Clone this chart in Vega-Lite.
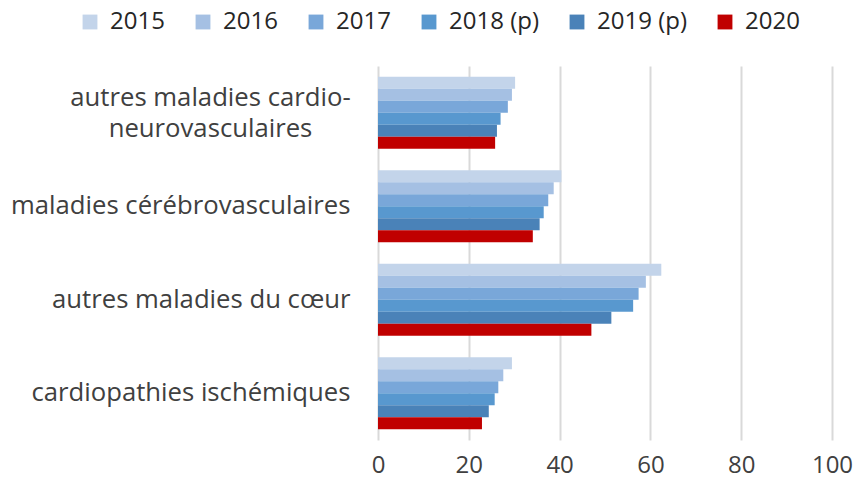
{
  "$schema": "https://vega.github.io/schema/vega-lite/v6.json",
  "autosize": {"type": "none"},
  "width": 454,
  "height": 374,
  "padding": {"left": 378, "top": 66, "right": 25, "bottom": 40},
  "background": "white",
  "config": {
    "view": {"stroke": null},
    "font": "Open Sans",
    "axis": {"labelFont": "Open Sans", "labelColor": "#404040", "titleFont": "Open Sans"},
    "legend": {"labelFont": "Open Sans"}
  },
  "data": {
    "values": [
      {"cause": "autres maladies cardio-|neurovasculaires", "year": "2015", "value": 30.2},
      {"cause": "autres maladies cardio-|neurovasculaires", "year": "2016", "value": 29.5},
      {"cause": "autres maladies cardio-|neurovasculaires", "year": "2017", "value": 28.6},
      {"cause": "autres maladies cardio-|neurovasculaires", "year": "2018 (p)", "value": 27.0},
      {"cause": "autres maladies cardio-|neurovasculaires", "year": "2019 (p)", "value": 26.2},
      {"cause": "autres maladies cardio-|neurovasculaires", "year": "2020", "value": 25.8},
      {"cause": "maladies cérébrovasculaires", "year": "2015", "value": 40.4},
      {"cause": "maladies cérébrovasculaires", "year": "2016", "value": 38.7},
      {"cause": "maladies cérébrovasculaires", "year": "2017", "value": 37.5},
      {"cause": "maladies cérébrovasculaires", "year": "2018 (p)", "value": 36.5},
      {"cause": "maladies cérébrovasculaires", "year": "2019 (p)", "value": 35.6},
      {"cause": "maladies cérébrovasculaires", "year": "2020", "value": 34.1},
      {"cause": "autres maladies du cœur", "year": "2015", "value": 62.4},
      {"cause": "autres maladies du cœur", "year": "2016", "value": 59.0},
      {"cause": "autres maladies du cœur", "year": "2017", "value": 57.4},
      {"cause": "autres maladies du cœur", "year": "2018 (p)", "value": 56.2},
      {"cause": "autres maladies du cœur", "year": "2019 (p)", "value": 51.4},
      {"cause": "autres maladies du cœur", "year": "2020", "value": 47.0},
      {"cause": "cardiopathies ischémiques", "year": "2015", "value": 29.5},
      {"cause": "cardiopathies ischémiques", "year": "2016", "value": 27.6},
      {"cause": "cardiopathies ischémiques", "year": "2017", "value": 26.5},
      {"cause": "cardiopathies ischémiques", "year": "2018 (p)", "value": 25.7},
      {"cause": "cardiopathies ischémiques", "year": "2019 (p)", "value": 24.4},
      {"cause": "cardiopathies ischémiques", "year": "2020", "value": 22.9}
    ]
  },
  "mark": {"type": "bar"},
  "encoding": {
    "y": {
      "field": "cause",
      "type": "nominal",
      "sort": null,
      "title": null,
      "scale": {"paddingInner": 0.23, "paddingOuter": 0.115},
      "axis": {
        "domain": false,
        "ticks": false,
        "labelExpr": "split(datum.value, '|')",
        "labelFontSize": 25.7,
        "labelFontWeight": 500,
        "labelAlign": {"condition": {"test": "datum.value === 'autres maladies cardio-|neurovasculaires'", "value": "center"}, "value": "right"},
        "labelPadding": {"condition": {"test": "datum.value === 'autres maladies cardio-|neurovasculaires'", "value": 168}, "value": 28},
        "labelOffset": {"condition": {"test": "datum.value === 'autres maladies cardio-|neurovasculaires'", "value": -15}, "value": 0},
        "labelLimit": 400,
        "labelLineHeight": 31
      }
    },
    "yOffset": {
      "field": "year",
      "type": "nominal",
      "sort": ["2015", "2016", "2017", "2018 (p)", "2019 (p)", "2020"],
      "scale": {"paddingInner": 0, "paddingOuter": 0}
    },
    "x": {
      "field": "value",
      "type": "quantitative",
      "title": null,
      "scale": {"domain": [0, 100]},
      "axis": {
        "values": [0, 20, 40, 60, 80, 100],
        "domain": false,
        "ticks": false,
        "grid": true,
        "gridColor": "#d9d9d9",
        "gridWidth": 2,
        "labelFontSize": 24,
        "labelFontWeight": 500,
        "labelPadding": 13,
        "labelFlush": false
      }
    },
    "color": {
      "field": "year",
      "type": "nominal",
      "sort": ["2015", "2016", "2017", "2018 (p)", "2019 (p)", "2020"],
      "scale": {
        "domain": ["2015", "2016", "2017", "2018 (p)", "2019 (p)", "2020"],
        "range": ["#c3d4ea", "#a5c0e3", "#79a7d9", "#5898cf", "#4a82b8", "#c00000"]
      },
      "legend": {
        "title": null,
        "orient": "none",
        "direction": "horizontal",
        "legendX": -300,
        "legendY": -56,
        "symbolType": "square",
        "symbolSize": 220,
        "symbolStrokeWidth": 0,
        "labelFontSize": 24,
        "labelFontWeight": 500,
        "labelColor": "#262626",
        "labelOffset": 8,
        "columnPadding": 26
      }
    }
  }
}
